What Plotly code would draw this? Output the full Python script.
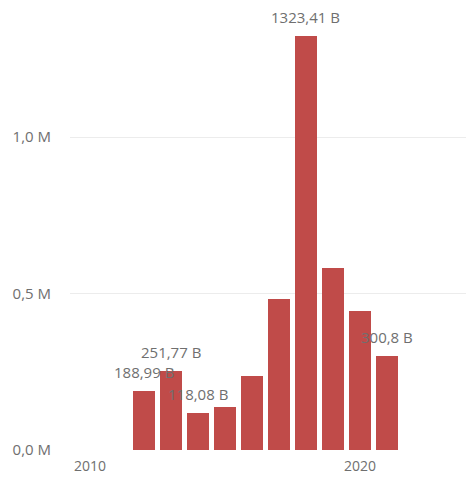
import plotly.graph_objects as go

# Yearly totals (1000 = 1,0 M on the value axis)
years = [2012, 2013, 2014, 2015, 2016, 2017, 2018, 2019, 2020, 2021]
values = [188.99, 251.77, 118.08, 138.0, 237.0, 482.0, 1323.41, 580.0, 445.0, 300.8]
labelled_years = [2012, 2013, 2014, 2018, 2021]

y_ticks = [0, 500, 1000]
x_ticks = [2010, 2020]

BAR_COLOR = "#C04B49"
TEXT_COLOR = "#6f6f6f"
FONT = "Open Sans"
FONT_SIZE = 15


def fmt_value(v):
    s = f"{v:.2f}".rstrip("0").rstrip(".")
    return s.replace(".", ",") + " B"


def fmt_tick(v):
    return f"{v / 1000:.1f}".replace(".", ",") + " M"


fig = go.Figure(
    go.Bar(
        x=years,
        y=values,
        width=0.81,
        marker=dict(color=BAR_COLOR, line=dict(width=0)),
        hoverinfo="skip",
    )
)

for yr, v in zip(years, values):
    if yr in labelled_years:
        fig.add_annotation(
            x=yr, y=v, text=fmt_value(v), showarrow=False,
            yshift=19, font=dict(family=FONT, size=FONT_SIZE, color=TEXT_COLOR),
        )

fig.update_layout(
    width=466, height=479,
    margin=dict(l=70, r=0, t=10, b=29),
    paper_bgcolor="white", plot_bgcolor="white",
    showlegend=False,
    font=dict(family=FONT, size=FONT_SIZE, color=TEXT_COLOR),
    bargap=0,
)
fig.update_xaxes(
    range=[2009.26, 2023.93],
    tickvals=x_ticks, ticktext=[str(t) for t in x_ticks],
    showgrid=False, zeroline=False, showline=False, ticks="",
    ticklabelstandoff=6,
    tickfont=dict(family=FONT, size=FONT_SIZE - 1, color=TEXT_COLOR),
)
fig.update_yaxes(
    range=[0, 1405.8],
    tickvals=y_ticks, ticktext=[fmt_tick(t) for t in y_ticks],
    showgrid=True, gridcolor="#ececec", gridwidth=1,
    zeroline=False, showline=False, ticks="",
    ticklabelstandoff=18,
    tickfont=dict(family=FONT, size=FONT_SIZE, color=TEXT_COLOR),
)

fig.write_html("out.html")
